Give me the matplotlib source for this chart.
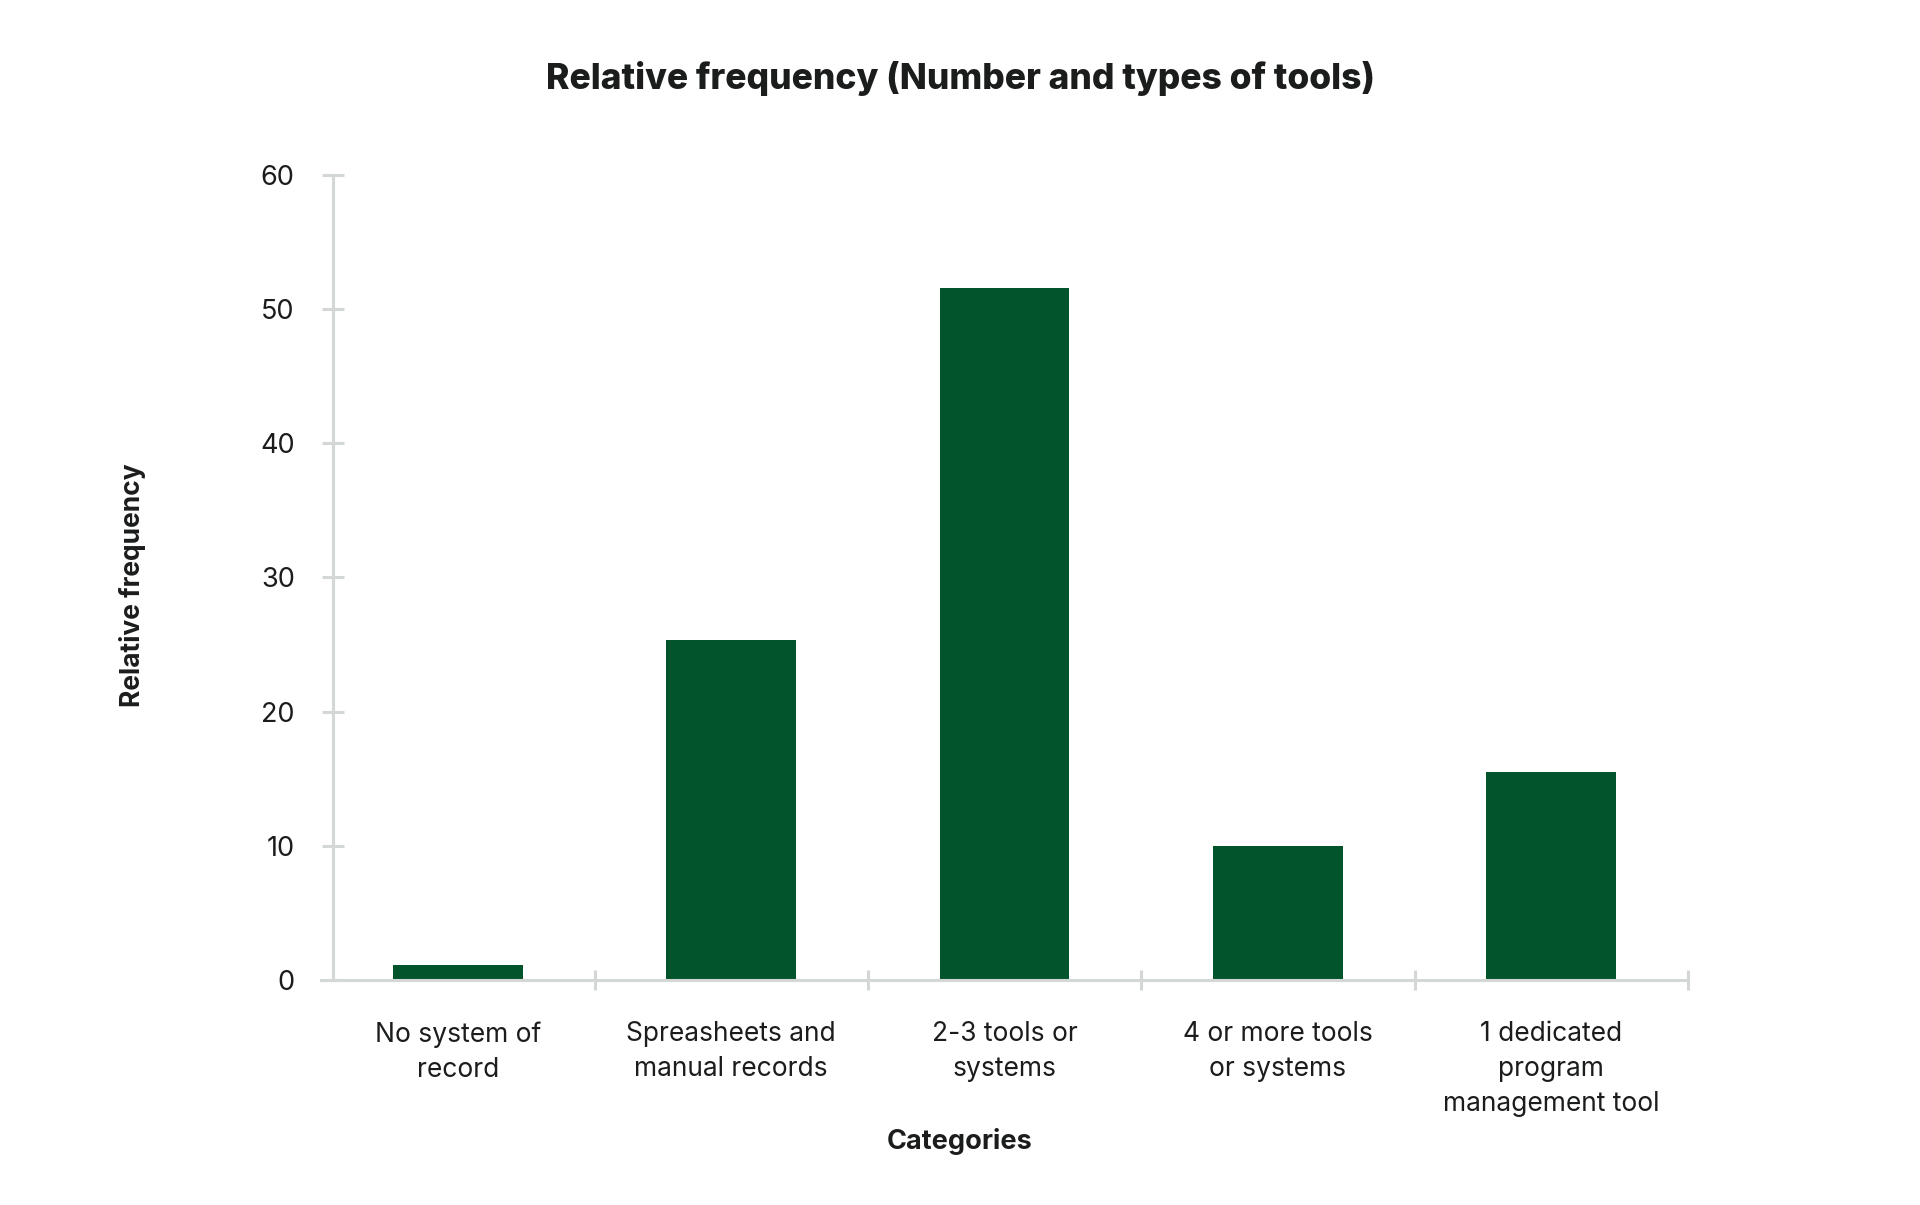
### Relative frequency bar chart (Number and types of tools)

import numpy as np
from matplotlib import pyplot as plt
from matplotlib.ticker import FixedLocator

# plot parameters
params = {'font.family': ['Inter', 'DejaVu Sans'],
          'text.color': '#1b1d1c',
          'axes.labelcolor': '#1b1d1c',
          'xtick.color': '#d3d8d6',
          'ytick.color': '#d3d8d6',
          'xtick.labelcolor': '#1b1d1c',
          'ytick.labelcolor': '#1b1d1c'}
plt.rcParams.update(params)


###############################################################################
### data
###############################################################################

categories = ['No system of\nrecord',
              'Spreasheets and\nmanual records',
              '2-3 tools or\nsystems',
              '4 or more tools\nor systems',
              '1 dedicated\nprogram\nmanagement tool']
rel_freq = [1.1, 25.3, 51.6, 10.0, 15.5]
y_ticks = [0, 10, 20, 30, 40, 50, 60]

bar_color = '#02542d'
axis_color = '#d3d8d6'


###############################################################################
### plotting
###############################################################################

fig = plt.figure(figsize = (19.2, 12.05), dpi = 100)
ax = fig.add_axes([0.1673, 0.1870, 0.7118, 0.6676])

x = np.arange(len(categories))
ax.bar(x, rel_freq, width = 0.475, color = bar_color, zorder = 1)

ax.set_xlim(-0.5, len(categories) - 0.5)
ax.set_ylim(0, 60)

# spines
for s in ['top', 'right']:
    ax.spines[s].set_visible(False)
ax.spines['left'].set_position(('data', -0.456))
ax.spines['left'].set_bounds(0, 60)
for s in ['left', 'bottom']:
    ax.spines[s].set_color(axis_color)
    ax.spines[s].set_linewidth(2.2)
    ax.spines[s].set_zorder(3)

# y ticks
ax.set_yticks(y_ticks)
ax.tick_params(axis = 'y', direction = 'inout', length = 15.5, width = 2.2,
               pad = 20, labelsize = 19.5)

# x ticks: labels at centres, marks at category borders
ax.set_xticks(x)
ax.set_xticklabels(categories, linespacing = 1.45)
ax.tick_params(axis = 'x', which = 'major', length = 0, pad = 30, labelsize = 19)
ax.xaxis.set_minor_locator(FixedLocator(x + 0.5))
ax.tick_params(axis = 'x', which = 'minor', direction = 'inout', length = 15,
               width = 2.2)

# titles
fig.text(0.5, 0.935, 'Relative frequency (Number and types of tools)',
         ha = 'center', va = 'center', fontsize = 25.5, fontweight = 'heavy')
fig.text(0.5, 0.053, 'Categories', ha = 'center', va = 'center',
         fontsize = 19.5, fontweight = 'bold')
fig.text(0.0689, 0.514, 'Relative frequency', ha = 'center', va = 'center',
         rotation = 90, fontsize = 19, fontweight = 'bold')

plt.savefig('out.png', dpi = 100)
